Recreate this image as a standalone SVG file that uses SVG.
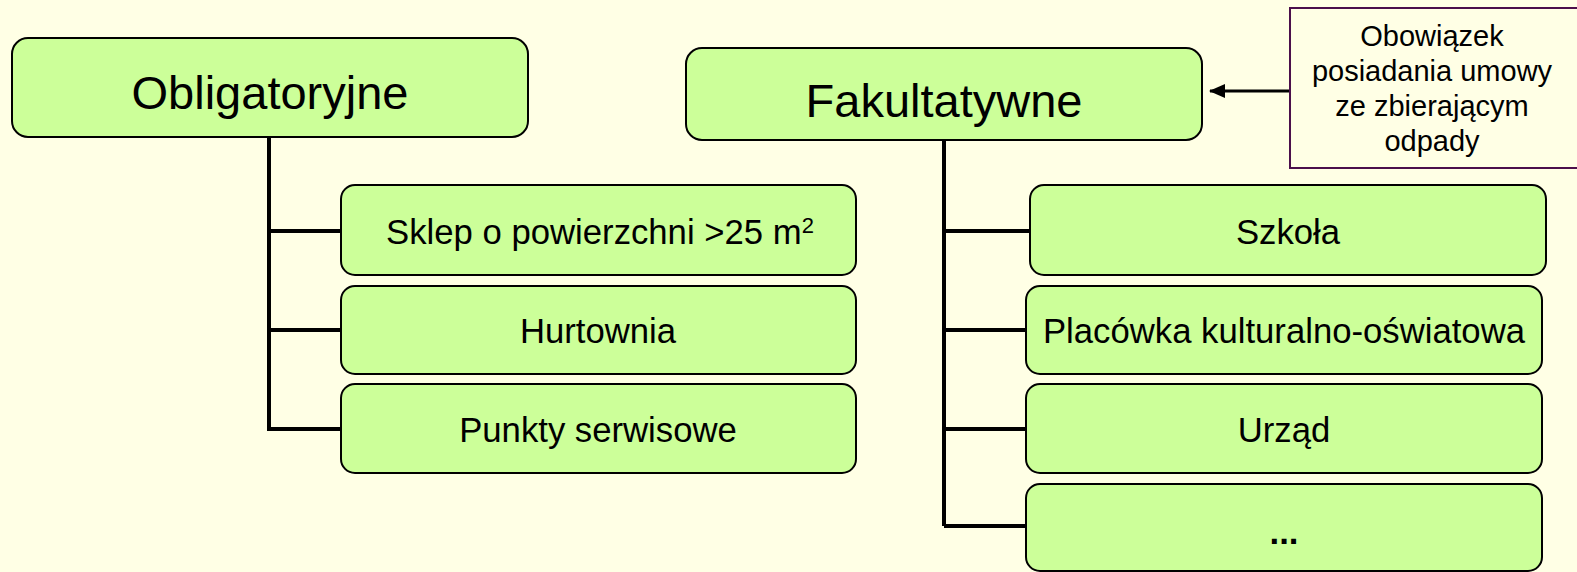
<svg xmlns="http://www.w3.org/2000/svg" width="1577" height="572" viewBox="0 0 1577 572">
<style>
.box{fill:#CCFF99;stroke:#000;stroke-width:2}
.t{font-family:"Liberation Sans",Arial,sans-serif;fill:#000;text-anchor:middle}
.big{font-size:47px}
.mid{font-size:34.7px}
.sm{font-size:29px}
.con{stroke:#000;stroke-width:4;fill:none}
</style>
<defs>
<marker id="ah" markerWidth="16" markerHeight="14" refX="15" refY="7" orient="auto" markerUnits="userSpaceOnUse">
<path d="M0,0 L16,7 L0,14 z" fill="#000"/>
</marker>
</defs>
<rect width="1577" height="572" fill="#FFFFE5"/>
<g id="connectors">
<path class="con" d="M269,137 V431 M269,231 H341 M269,330 H341 M269,429 H341"/>
<path class="con" d="M944,141 V526 M944,231 H1030 M944,330 H1026 M944,429 H1026 M944,526 H1026"/>
<line x1="1290" y1="91" x2="1210" y2="91" stroke="#000" stroke-width="3" marker-end="url(#ah)"/>
</g>
<g id="obligatoryjne">
<rect class="box" x="12" y="38" width="516" height="99" rx="16"/>
<text class="t big" x="270" y="109">Obligatoryjne</text>
</g>
<g id="fakultatywne">
<rect class="box" x="686" y="48" width="516" height="92" rx="16"/>
<text class="t big" x="944" y="117">Fakultatywne</text>
</g>
<g id="note">
<rect x="1290" y="8" width="290" height="160" fill="#FFFFE5" stroke="#4B0F4B" stroke-width="2"/>
<text class="t sm" x="1432" y="46">Obowiązek</text>
<text class="t sm" x="1432" y="81">posiadania umowy</text>
<text class="t sm" x="1432" y="116">ze zbierającym</text>
<text class="t sm" x="1432" y="151">odpady</text>
</g>
<g id="sklep">
<rect class="box" x="341" y="185" width="515" height="90" rx="14"/>
<text class="t mid" x="600" y="244">Sklep o powierzchni &gt;25 m<tspan font-size="22" dy="-11">2</tspan></text>
</g>
<g id="hurtownia">
<rect class="box" x="341" y="286" width="515" height="88" rx="14"/>
<text class="t mid" x="598" y="343">Hurtownia</text>
</g>
<g id="punkty">
<rect class="box" x="341" y="384" width="515" height="89" rx="14"/>
<text class="t mid" x="598" y="442">Punkty serwisowe</text>
</g>
<g id="szkola">
<rect class="box" x="1030" y="185" width="516" height="90" rx="14"/>
<text class="t mid" x="1288" y="244">Szkoła</text>
</g>
<g id="placowka">
<rect class="box" x="1026" y="286" width="516" height="88" rx="14"/>
<text class="t mid" x="1284" y="343">Placówka kulturalno-oświatowa</text>
</g>
<g id="urzad">
<rect class="box" x="1026" y="384" width="516" height="89" rx="14"/>
<text class="t mid" x="1284" y="442">Urząd</text>
</g>
<g id="more">
<rect class="box" x="1026" y="484" width="516" height="87" rx="14"/>
<text class="t mid" x="1284" y="544" font-weight="bold">...</text>
</g>
</svg>
